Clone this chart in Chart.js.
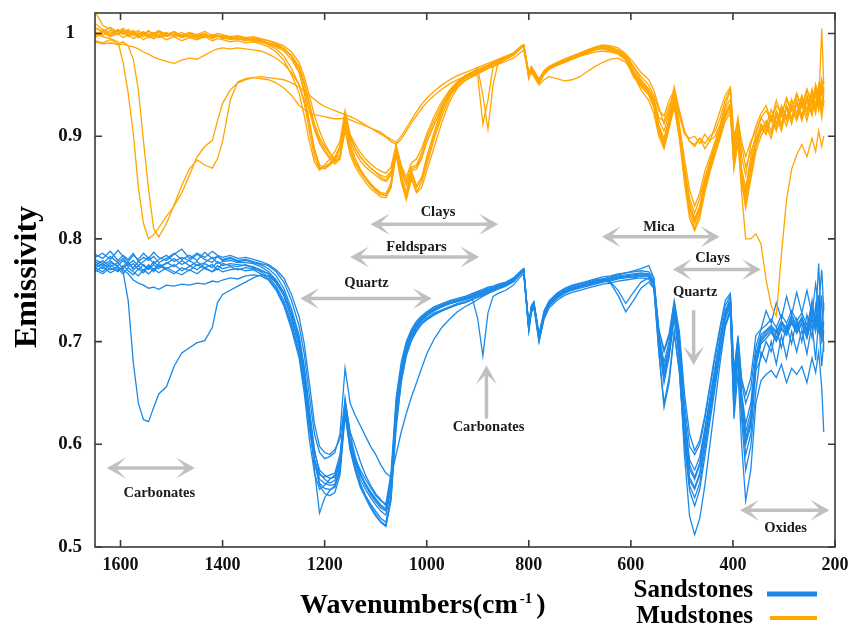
<!DOCTYPE html>
<html>
<head>
<meta charset="utf-8">
<script src="https://cdn.jsdelivr.net/npm/chart.js@4.4.1/dist/chart.umd.min.js"></script>
<style>
  html, body { margin: 0; padding: 0; background: #fff; }
</style>
</head>
<body>
<canvas id="grafico" width="850" height="627"></canvas>
<script>
// wavenumbers (cm-1) shared by every spectrum
const wavenumbers = [
  1650,1635,1620,1605,1595,1585,1575,1565,1555,1545,
  1535,1525,1510,1495,1480,1465,1450,1435,1420,1410,
  1400,1385,1370,1355,1340,1325,1310,1295,1280,1265,
  1250,1240,1230,1220,1210,1200,1190,1180,1170,1160,
  1150,1140,1130,1120,1110,1100,1090,1080,1070,1060,
  1050,1040,1030,1020,1010,1000,985,970,955,940,
  925,910,900,890,880,870,860,845,830,815,
  810,800,795,790,780,770,760,745,730,715,
  700,685,670,655,640,625,610,595,580,565,
  555,545,535,525,515,505,495,485,475,465,
  455,445,435,425,415,405,398,390,383,375,
  365,355,345,335,325,315,305,295,285,275,
  265,255,245,238,232,226,222
];

// sandstones (blue)
const sand1 = [
  .772,.776,.770,.773,.768,.740,.680,.640,.624,.622,
  .636,.649,.656,.676,.689,.694,.699,.701,.714,.738,
  .746,.750,.754,.758,.762,.765,.764,.757,.745,.722,
  .695,.662,.620,.585,.566,.562,.560,.561,.578,.640,
  .603,.582,.566,.556,.548,.541,.535,.531,.556,.628,
  .668,.692,.706,.715,.721,.726,.731,.734,.737,.739,
  .741,.744,.746,.748,.750,.751,.752,.755,.759,.767,
  .769,.712,.731,.736,.703,.726,.736,.743,.748,.751,
  .753,.755,.757,.759,.760,.762,.763,.762,.764,.763,
  .756,.702,.668,.690,.727,.692,.622,.576,.566,.580,
  .610,.640,.672,.702,.727,.738,.655,.697,.645,.606,
  .626,.681,.702,.708,.713,.704,.717,.710,.722,.712,
  .721,.708,.726,.714,.731,.704,.712
];
const sand2 = [
  .778,.774,.779,.772,.770,.766,.760,.757,.755,.752,
  .753,.751,.755,.754,.756,.755,.757,.756,.759,.758,
  .760,.762,.761,.764,.765,.764,.760,.750,.735,.712,
  .684,.650,.605,.572,.556,.560,.566,.570,.585,.645,
  .610,.588,.572,.560,.552,.546,.540,.536,.565,.640,
  .675,.698,.710,.718,.724,.728,.733,.736,.739,.741,
  .743,.746,.748,.750,.752,.753,.755,.757,.760,.768,
  .770,.714,.733,.737,.704,.727,.737,.744,.749,.752,
  .754,.756,.758,.760,.761,.763,.764,.765,.766,.765,
  .758,.705,.675,.695,.730,.695,.628,.585,.575,.588,
  .616,.646,.676,.705,.730,.742,.662,.700,.650,.620,
  .640,.688,.707,.711,.716,.710,.720,.713,.725,.716,
  .723,.712,.740,.712,.745,.700,.738
];
const sand3 = [
  .785,.781,.788,.779,.784,.780,.786,.778,.782,.779,
  .783,.777,.781,.786,.780,.784,.779,.787,.781,.783,
  .780,.782,.779,.780,.778,.776,.774,.768,.758,.740,
  .715,.688,.648,.610,.592,.586,.588,.592,.610,.674,
  .640,.628,.618,.608,.598,.590,.580,.572,.568,.590,
  .612,.630,.646,.660,.674,.688,.703,.714,.722,.729,
  .734,.738,.741,.744,.747,.750,.752,.755,.759,.767,
  .769,.716,.734,.738,.706,.728,.738,.745,.750,.753,
  .755,.757,.759,.760,.762,.764,.765,.766,.767,.766,
  .759,.710,.690,.705,.738,.705,.640,.598,.590,.600,
  .625,.655,.685,.712,.735,.745,.668,.704,.660,.640,
  .655,.695,.712,.716,.722,.714,.726,.718,.730,.720,
  .728,.716,.734,.722,.740,.712,.720
];
const sand4 = [
  .770,.766,.772,.768,.774,.769,.765,.771,.767,.773,
  .768,.774,.770,.766,.772,.769,.775,.771,.768,.774,
  .771,.773,.770,.772,.771,.769,.766,.759,.748,.728,
  .702,.672,.630,.575,.533,.548,.555,.560,.576,.632,
  .596,.576,.560,.550,.542,.535,.528,.524,.548,.620,
  .662,.688,.702,.711,.718,.722,.727,.730,.733,.736,
  .738,.741,.722,.686,.728,.744,.747,.750,.755,.764,
  .766,.710,.728,.733,.700,.722,.733,.740,.745,.748,
  .750,.752,.754,.756,.757,.759,.760,.761,.762,.761,
  .753,.698,.660,.685,.722,.685,.612,.565,.556,.570,
  .602,.634,.665,.698,.722,.735,.650,.692,.640,.600,
  .618,.676,.698,.703,.709,.700,.712,.706,.718,.708,
  .717,.703,.722,.710,.726,.700,.708
];
const sand5 = [
  .780,.776,.783,.777,.781,.775,.779,.774,.778,.782,
  .776,.780,.784,.778,.782,.779,.785,.780,.777,.783,
  .779,.781,.778,.779,.777,.775,.771,.764,.752,.732,
  .706,.676,.635,.595,.572,.566,.562,.565,.582,.638,
  .602,.584,.570,.560,.551,.544,.538,.535,.563,.636,
  .673,.696,.709,.717,.723,.727,.732,.735,.738,.740,
  .742,.745,.747,.749,.751,.752,.754,.756,.760,.768,
  .770,.713,.732,.736,.702,.726,.737,.744,.749,.752,
  .754,.756,.758,.760,.758,.750,.737,.748,.758,.762,
  .756,.690,.640,.665,.710,.672,.605,.560,.548,.562,
  .595,.628,.660,.692,.718,.730,.640,.688,.632,.590,
  .610,.672,.684,.700,.690,.712,.694,.716,.698,.722,
  .700,.726,.704,.735,.708,.745,.690
];
const sand6 = [
  .768,.773,.767,.771,.766,.772,.768,.764,.770,.766,
  .771,.767,.772,.768,.765,.770,.766,.772,.768,.771,
  .768,.770,.771,.769,.770,.766,.761,.752,.737,.715,
  .688,.656,.615,.585,.570,.568,.570,.572,.590,.630,
  .600,.585,.575,.566,.558,.550,.545,.542,.572,.645,
  .680,.700,.712,.720,.725,.729,.734,.737,.740,.742,
  .744,.747,.749,.751,.753,.754,.756,.758,.762,.769,
  .771,.715,.734,.738,.706,.729,.739,.746,.751,.754,
  .756,.758,.760,.761,.757,.745,.729,.740,.752,.758,
  .752,.688,.636,.660,.708,.670,.600,.555,.540,.556,
  .588,.622,.655,.688,.715,.728,.632,.684,.625,.575,
  .598,.652,.690,.680,.700,.678,.706,.684,.710,.690,
  .712,.688,.718,.682,.722,.676,.700
];
const sand7 = [
  .774,.779,.773,.777,.771,.776,.772,.778,.774,.770,
  .775,.771,.777,.773,.779,.774,.770,.776,.772,.778,
  .774,.776,.775,.774,.773,.770,.766,.758,.745,.724,
  .698,.666,.625,.585,.560,.552,.550,.553,.570,.628,
  .594,.574,.558,.548,.538,.530,.524,.520,.545,.615,
  .660,.686,.701,.710,.717,.721,.726,.730,.733,.736,
  .738,.741,.743,.745,.747,.749,.751,.754,.758,.766,
  .768,.711,.730,.735,.700,.724,.735,.742,.747,.750,
  .752,.754,.756,.758,.759,.761,.762,.763,.764,.764,
  .757,.700,.665,.688,.728,.680,.590,.530,.512,.528,
  .560,.600,.640,.680,.715,.732,.625,.670,.600,.545,
  .575,.640,.662,.668,.672,.665,.678,.660,.674,.668,
  .676,.660,.684,.670,.690,.655,.612
];
const sand8 = [
  .782,.786,.780,.789,.783,.778,.784,.780,.786,.781,
  .787,.782,.779,.785,.790,.781,.786,.782,.788,.784,
  .782,.784,.781,.782,.780,.778,.775,.770,.762,.746,
  .724,.698,.660,.620,.598,.592,.590,.595,.605,.642,
  .612,.598,.583,.570,.560,.552,.546,.540,.560,.625,
  .664,.690,.705,.714,.720,.725,.730,.734,.737,.740,
  .742,.744,.746,.748,.750,.752,.754,.757,.761,.769,
  .771,.716,.735,.739,.707,.730,.740,.747,.752,.755,
  .757,.759,.761,.763,.764,.766,.767,.768,.769,.768,
  .762,.712,.692,.708,.740,.710,.650,.610,.594,.604,
  .628,.658,.688,.715,.740,.747,.672,.706,.664,.648,
  .665,.706,.712,.730,.718,.738,.722,.744,.726,.748,
  .728,.750,.726,.756,.735,.770,.730
];
const sand9 = [
  .776,.771,.777,.774,.779,.773,.776,.770,.775,.771,
  .778,.773,.776,.781,.775,.779,.774,.777,.782,.776,
  .778,.779,.777,.777,.776,.773,.768,.760,.748,.728,
  .702,.672,.632,.592,.575,.570,.567,.568,.584,.636,
  .604,.586,.571,.562,.554,.547,.541,.537,.566,.632,
  .670,.694,.707,.716,.722,.726,.731,.734,.737,.739,
  .741,.743,.745,.747,.749,.751,.753,.756,.760,.767,
  .769,.714,.733,.737,.704,.727,.737,.744,.749,.752,
  .754,.756,.759,.761,.763,.765,.767,.769,.771,.774,
  .762,.706,.680,.700,.735,.700,.630,.580,.568,.582,
  .612,.642,.672,.702,.728,.740,.660,.698,.648,.612,
  .632,.684,.704,.710,.714,.708,.719,.712,.726,.714,
  .724,.710,.732,.720,.776,.706,.718
];
const sand10 = [
  .772,.768,.775,.769,.773,.778,.770,.774,.769,.775,
  .770,.776,.771,.775,.769,.773,.778,.772,.775,.770,
  .776,.774,.773,.775,.772,.768,.763,.754,.740,.718,
  .690,.658,.618,.582,.562,.557,.556,.558,.574,.632,
  .598,.578,.562,.550,.540,.532,.525,.521,.550,.625,
  .665,.690,.704,.712,.718,.723,.728,.731,.734,.737,
  .739,.742,.744,.746,.748,.750,.752,.755,.759,.767,
  .769,.712,.731,.736,.702,.725,.736,.743,.748,.751,
  .753,.755,.757,.759,.760,.762,.763,.764,.765,.765,
  .758,.703,.672,.692,.732,.692,.615,.568,.558,.572,
  .604,.636,.668,.700,.725,.738,.652,.694,.642,.602,
  .622,.678,.700,.706,.711,.702,.714,.708,.720,.710,
  .718,.705,.726,.712,.728,.702,.710
];

// mudstones (orange)
const mud1 = [
  1.000,.997,.995,.992,.972,.942,.903,.850,.815,.800,
  .804,.811,.822,.832,.845,.862,.880,.890,.896,.915,
  .932,.945,.952,.955,.957,.956,.955,.952,.947,.940,
  .930,.926,.923,.921,.920,.919,.918,.917,.917,.918,
  .916,.914,.912,.910,.908,.906,.904,.900,.897,.894,
  .900,.908,.916,.924,.931,.937,.944,.950,.955,.959,
  .962,.965,.967,.969,.971,.973,.975,.978,.981,.986,
  .987,.962,.966,.962,.955,.962,.966,.969,.972,.975,
  .978,.980,.982,.983,.982,.981,.976,.968,.958,.950,
  .940,.925,.920,.935,.945,.925,.905,.895,.892,.898,
  .893,.900,.905,.918,.935,.946,.900,.915,.895,.880,
  .895,.905,.918,.925,.915,.930,.922,.935,.925,.940,
  .928,.945,.930,.950,.935,.955,.940
];
const mud2 = [
  .993,.991,.994,.990,.992,.988,.975,.945,.895,.848,
  .810,.802,.815,.833,.852,.868,.877,.872,.869,.878,
  .895,.935,.953,.956,.957,.958,.957,.956,.955,.952,
  .948,.944,.940,.936,.932,.929,.927,.925,.923,.921,
  .919,.917,.914,.911,.908,.905,.902,.899,.895,.892,
  .897,.905,.913,.920,.927,.933,.940,.946,.951,.955,
  .958,.960,.962,.964,.966,.968,.970,.973,.976,.982,
  .984,.958,.962,.958,.950,.955,.958,.956,.954,.955,
  .958,.963,.968,.972,.975,.976,.972,.962,.952,.945,
  .935,.918,.915,.930,.940,.920,.902,.898,.900,.893,
  .902,.895,.910,.925,.940,.948,.895,.918,.890,.870,
  .885,.898,.910,.902,.920,.912,.928,.918,.935,.922,
  .938,.925,.942,.928,.948,.930,.945
];
const mud3 = [
  .992,.990,.991,.989,.990,.988,.987,.985,.982,.980,
  .977,.975,.973,.971,.974,.976,.975,.979,.983,.985,
  .986,.985,.986,.985,.984,.983,.980,.976,.970,.962,
  .950,.935,.912,.885,.870,.868,.872,.878,.890,.915,
  .900,.888,.880,.874,.869,.865,.862,.860,.866,.886,
  .868,.855,.868,.870,.880,.895,.912,.928,.940,.948,
  .954,.958,.961,.963,.966,.968,.971,.975,.979,.986,
  .988,.960,.966,.962,.954,.963,.967,.971,.974,.977,
  .980,.982,.985,.986,.984,.982,.975,.960,.945,.935,
  .922,.900,.895,.915,.935,.905,.870,.840,.825,.840,
  .860,.875,.890,.905,.920,.930,.870,.895,.845,.800,
  .800,.805,.795,.760,.735,.725,.785,.838,.868,.882,
  .892,.880,.898,.885,.905,.890,.900
];
const mud4 = [
  1.022,1.008,1.004,1.002,1.005,1.001,1.003,.999,1.002,.998,
  1.001,.997,1.000,.998,1.001,.997,.999,.996,.999,.997,
  .998,.996,.997,.995,.996,.994,.993,.991,.988,.982,
  .972,.958,.940,.920,.905,.893,.884,.876,.878,.905,
  .882,.870,.862,.855,.849,.845,.841,.840,.850,.885,
  .858,.840,.862,.846,.855,.872,.898,.920,.938,.950,
  .957,.962,.965,.967,.969,.972,.974,.977,.981,.988,
  .989,.957,.966,.961,.952,.962,.966,.970,.973,.977,
  .979,.983,.985,.987,.985,.983,.978,.962,.950,.942,
  .930,.905,.890,.910,.930,.900,.860,.825,.810,.825,
  .850,.868,.885,.900,.918,.925,.875,.900,.860,.840,
  .870,.895,.905,.915,.905,.925,.912,.930,.918,.935,
  .920,.940,.925,.945,.930,1.005,.950
];
const mud5 = [
  1.005,1.002,1.006,1.001,1.003,.999,1.002,.998,1.001,.997,
  .999,1.002,.998,1.001,.997,1.000,.996,.999,.997,.998,
  .996,.997,.995,.996,.994,.993,.991,.989,.985,.978,
  .966,.950,.930,.910,.896,.887,.880,.875,.880,.910,
  .886,.873,.865,.858,.852,.847,.843,.842,.852,.888,
  .860,.842,.865,.850,.858,.876,.902,.924,.941,.952,
  .958,.962,.958,.912,.935,.968,.971,.975,.979,.986,
  .988,.956,.965,.960,.951,.960,.965,.969,.972,.975,
  .978,.981,.984,.985,.983,.980,.974,.958,.948,.940,
  .928,.900,.888,.908,.928,.898,.855,.820,.808,.820,
  .845,.865,.882,.898,.915,.922,.868,.895,.855,.830,
  .858,.885,.900,.910,.898,.920,.905,.928,.912,.932,
  .915,.935,.920,.942,.925,.945,.930
];
const mud6 = [
  .998,1.003,.999,1.004,1.000,1.002,.998,1.001,.997,1.000,
  .996,.999,1.001,.997,.999,.996,.998,1.000,.996,.998,
  .995,.996,.994,.995,.993,.992,.990,.987,.983,.975,
  .962,.945,.925,.906,.893,.885,.878,.873,.878,.912,
  .888,.875,.866,.860,.854,.849,.845,.844,.855,.890,
  .862,.845,.866,.852,.860,.880,.905,.927,.943,.953,
  .959,.963,.966,.940,.907,.950,.972,.976,.980,.987,
  .989,.958,.966,.962,.953,.962,.966,.970,.973,.976,
  .978,.982,.984,.986,.984,.982,.976,.960,.950,.943,
  .932,.908,.895,.912,.932,.902,.862,.830,.815,.828,
  .852,.870,.888,.902,.920,.928,.872,.898,.858,.835,
  .862,.890,.905,.912,.902,.922,.908,.930,.915,.935,
  .918,.938,.922,.944,.928,.948,.932
];
const mud7 = [
  1.010,1.004,1.001,.999,1.003,.998,1.001,.997,1.000,.996,
  .999,.996,.998,1.001,.996,.998,.995,.998,.996,.997,
  .997,.995,.996,.994,.995,.993,.991,.988,.985,.979,
  .968,.953,.933,.912,.899,.890,.883,.878,.882,.918,
  .892,.878,.868,.860,.853,.848,.844,.842,.850,.882,
  .855,.838,.858,.845,.850,.866,.890,.914,.934,.947,
  .954,.959,.962,.965,.967,.970,.972,.976,.980,.987,
  .989,.959,.967,.963,.954,.963,.967,.971,.974,.977,
  .980,.983,.986,.988,.986,.984,.978,.965,.953,.945,
  .935,.910,.898,.918,.938,.905,.868,.835,.820,.832,
  .858,.876,.892,.908,.925,.932,.878,.902,.862,.845,
  .875,.895,.912,.905,.920,.908,.925,.915,.930,.918,
  .935,.920,.940,.925,.945,.925,.948
];
const mud8 = [
  1.002,.998,1.003,.999,1.002,.997,1.000,.996,.999,1.003,
  .998,1.001,.997,.999,.996,1.000,.997,.999,.995,.998,
  .996,.994,.995,.993,.994,.992,.989,.985,.978,.966,
  .950,.932,.905,.880,.868,.870,.874,.880,.890,.918,
  .895,.884,.876,.870,.866,.862,.858,.856,.862,.885,
  .866,.852,.866,.868,.878,.894,.912,.928,.941,.950,
  .956,.960,.963,.966,.968,.970,.973,.976,.980,.986,
  .988,.960,.966,.961,.953,.962,.966,.970,.973,.976,
  .979,.982,.984,.986,.985,.982,.977,.962,.951,.942,
  .930,.906,.892,.912,.932,.904,.864,.832,.818,.830,
  .855,.872,.888,.904,.922,.930,.880,.905,.862,.842,
  .868,.892,.908,.902,.918,.905,.922,.910,.928,.915,
  .932,.915,.936,.922,.940,.918,.935
];
const mud9 = [
  .996,1.001,.997,1.000,.996,.999,.995,.998,.994,.997,
  .995,.998,.994,.997,.993,.996,.994,.997,.993,.995,
  .994,.992,.993,.991,.992,.990,.987,.982,.974,.960,
  .942,.920,.895,.875,.867,.872,.878,.885,.895,.925,
  .902,.892,.884,.878,.873,.869,.866,.864,.870,.892,
  .872,.860,.874,.878,.888,.902,.920,.934,.945,.953,
  .958,.962,.965,.967,.969,.971,.974,.977,.981,.987,
  .989,.961,.967,.963,.955,.963,.967,.971,.975,.978,
  .981,.984,.986,.988,.987,.984,.980,.968,.955,.946,
  .937,.915,.905,.922,.942,.912,.878,.848,.832,.845,
  .866,.880,.895,.910,.928,.936,.885,.910,.868,.850,
  .880,.902,.918,.910,.926,.912,.930,.918,.936,.922,
  .940,.925,.946,.930,.950,.928,.940
];
const mud10 = [
  1.006,1.002,.998,1.003,.999,1.004,1.000,1.003,.999,1.002,
  1.000,1.003,.999,1.002,.998,1.001,.999,1.002,.998,1.000,
  .999,.997,.998,.996,.997,.995,.993,.990,.986,.978,
  .962,.942,.915,.888,.872,.870,.872,.876,.888,.920,
  .898,.888,.880,.874,.869,.865,.860,.857,.864,.889,
  .869,.856,.870,.872,.884,.899,.916,.931,.944,.952,
  .957,.961,.964,.966,.968,.971,.973,.977,.981,.987,
  .989,.962,.968,.964,.956,.964,.968,.972,.975,.978,
  .981,.984,.987,.989,.988,.986,.980,.972,.962,.955,
  .945,.928,.912,.925,.948,.925,.905,.895,.890,.898,
  .888,.896,.900,.912,.930,.945,.890,.912,.880,.862,
  .892,.910,.922,.930,.915,.935,.920,.938,.925,.942,
  .928,.946,.932,.950,.935,.955,.945
];

const sandstones = [sand1, sand2, sand3, sand4, sand5, sand6, sand7, sand8, sand9, sand10];
const mudstones = [mud1, mud2, mud3, mud4, mud5, mud6, mud7, mud8, mud9, mud10];

const xTickStep = 200;
const yTickStep = 0.1;

const blue = 'rgb(27,137,232)';
const orange = 'rgb(255,166,0)';
const arrowGray = 'rgb(196,191,191)';
const serif = "'Liberation Serif', 'Times New Roman', serif";

// labels with gray arrows, placed in data units (wavenumber, emissivity)
const notes = [
  { text: 'Clays',      from: [1110, 0.8143], to: [860, 0.8143],  at: [978, 0.8257],  both: true },
  { text: 'Feldspars',  from: [1150, 0.7825], to: [897, 0.7825],  at: [1020, 0.7922], both: true },
  { text: 'Quartz',     from: [1248, 0.742],  to: [990, 0.742],   at: [1118, 0.7572], both: true },
  { text: 'Mica',       from: [657, 0.802],   to: [426, 0.802],   at: [545, 0.8111],  both: true },
  { text: 'Clays',      from: [518, 0.7702],  to: [345, 0.7702],  at: [440, 0.7809],  both: true },
  { text: 'Quartz',     from: [477, 0.7306],  to: [477, 0.677],   at: [474, 0.7484],  both: false },
  { text: 'Carbonates', from: [883, 0.6251],  to: [883, 0.677],   at: [879, 0.6164],  both: false },
  { text: 'Carbonates', from: [1627, 0.577],  to: [1454, 0.577],  at: [1524, 0.5527], both: true },
  { text: 'Oxides',     from: [386, 0.5358],  to: [211, 0.5358],  at: [297, 0.518],   both: true }
];

// check that every series matches the wavenumbers
[...sandstones, ...mudstones].forEach((s, i) => {
  if (s.length !== wavenumbers.length) throw new Error('series ' + i + ' has ' + s.length + ' values');
});

function toPoints(vals) {
  return wavenumbers.map((w, i) => ({ x: w, y: vals[i] }));
}

const datasets = [];
// orange first so it is drawn on top
mudstones.forEach(m => datasets.push({ label: 'Mudstones', data: toPoints(m), borderColor: orange }));
sandstones.forEach(s => datasets.push({ label: 'Sandstones', data: toPoints(s), borderColor: blue }));

function head(ctx, tx, ty, ang) {
  const L = 19, W = 10.5, N = 9;
  ctx.save();
  ctx.translate(tx, ty);
  ctx.rotate(ang);
  ctx.beginPath();
  ctx.moveTo(0, 0);
  ctx.lineTo(-L, -W);
  ctx.lineTo(-N, 0);
  ctx.lineTo(-L, W);
  ctx.closePath();
  ctx.fill();
  ctx.restore();
}

function arrow(ctx, x1, y1, x2, y2, both) {
  const ang = Math.atan2(y2 - y1, x2 - x1);
  const c = Math.cos(ang), s = Math.sin(ang);
  const N = 9;
  ctx.beginPath();
  ctx.moveTo(x1 + (both ? N * c : 0), y1 + (both ? N * s : 0));
  ctx.lineTo(x2 - N * c, y2 - N * s);
  ctx.stroke();
  head(ctx, x2, y2, ang);
  if (both) head(ctx, x1, y1, ang + Math.PI);
}

const extras = {
  id: 'extras',
  afterDraw(chart) {
    const ctx = chart.ctx;
    const { left, right, top, bottom } = chart.chartArea;
    const xs = chart.scales.x, ys = chart.scales.y;
    ctx.save();

    // frame and inward ticks
    ctx.strokeStyle = '#3a3a3a';
    ctx.lineWidth = 1.6;
    ctx.strokeRect(left, top, right - left, bottom - top);
    ctx.beginPath();
    xs.ticks.forEach(t => {
      const px = xs.getPixelForValue(t.value);
      ctx.moveTo(px, bottom); ctx.lineTo(px, bottom - 7);
      ctx.moveTo(px, top); ctx.lineTo(px, top + 7);
    });
    ys.ticks.forEach(t => {
      const py = ys.getPixelForValue(t.value);
      ctx.moveTo(left, py); ctx.lineTo(left + 7, py);
      ctx.moveTo(right, py); ctx.lineTo(right - 7, py);
    });
    ctx.stroke();

    // arrows and their labels
    ctx.strokeStyle = arrowGray;
    ctx.fillStyle = arrowGray;
    ctx.lineWidth = 3.5;
    notes.forEach(n => {
      arrow(ctx,
        xs.getPixelForValue(n.from[0]), ys.getPixelForValue(n.from[1]),
        xs.getPixelForValue(n.to[0]), ys.getPixelForValue(n.to[1]), n.both);
    });
    ctx.fillStyle = '#1a1a1a';
    ctx.font = 'bold 14.5px ' + serif;
    ctx.textAlign = 'center';
    ctx.textBaseline = 'middle';
    notes.forEach(n => {
      ctx.fillText(n.text, xs.getPixelForValue(n.at[0]), ys.getPixelForValue(n.at[1]));
    });

    // y title
    ctx.fillStyle = '#000';
    ctx.save();
    ctx.translate(28, 277);
    ctx.rotate(-Math.PI / 2);
    ctx.font = 'bold 32px ' + serif;
    ctx.fillText('Emissivity', 0, 0);
    ctx.restore();

    // x title with superscript
    ctx.textAlign = 'left';
    ctx.textBaseline = 'alphabetic';
    ctx.font = 'bold 28px ' + serif;
    const main = 'Wavenumbers(cm';
    let tx = 300;
    ctx.fillText(main, tx, 613);
    tx += ctx.measureText(main).width + 2;
    ctx.font = 'bold 15px ' + serif;
    ctx.fillText('-1', tx, 603);
    tx += ctx.measureText('-1').width + 4;
    ctx.font = 'bold 28px ' + serif;
    ctx.fillText(')', tx, 613);

    // legend
    ctx.font = 'bold 25px ' + serif;
    ctx.textAlign = 'right';
    ctx.fillText('Sandstones', 753, 597);
    ctx.fillText('Mudstones', 753, 623);
    ctx.lineWidth = 5;
    ctx.strokeStyle = blue;
    ctx.beginPath(); ctx.moveTo(767, 594); ctx.lineTo(817, 594); ctx.stroke();
    ctx.lineWidth = 4;
    ctx.strokeStyle = orange;
    ctx.beginPath(); ctx.moveTo(770, 618); ctx.lineTo(817, 618); ctx.stroke();

    ctx.restore();
  }
};

new Chart(document.getElementById('grafico'), {
  type: 'line',
  data: { datasets: datasets },
  options: {
    responsive: false,
    animation: false,
    devicePixelRatio: 1,
    layout: { padding: { left: 0, right: 15, top: 13, bottom: 0 } },
    plugins: { legend: { display: false }, tooltip: { enabled: false } },
    elements: {
      point: { radius: 0 },
      line: { borderWidth: 1.3, tension: 0, fill: false }
    },
    scales: {
      x: {
        type: 'linear',
        reverse: true,
        min: 200,
        max: 1650,
        grid: { display: false, drawTicks: false },
        border: { display: false },
        ticks: {
          stepSize: xTickStep,
          includeBounds: false,
          padding: 8,
          color: '#111',
          font: { family: serif, size: 18, weight: 'bold' },
          callback: v => String(v)
        },
        afterFit(s) { s.height = 80; s.paddingLeft = 0; s.paddingRight = 0; }
      },
      y: {
        type: 'linear',
        min: 0.5,
        max: 1.02,
        grid: { display: false, drawTicks: false },
        border: { display: false },
        ticks: {
          stepSize: yTickStep,
          includeBounds: false,
          crossAlign: 'center',
          padding: 13,
          color: '#111',
          font: { family: serif, size: 19, weight: 'bold' },
          callback: v => String(Number(v.toFixed(2)))
        },
        afterFit(s) { s.width = 95; s.paddingTop = 0; s.paddingBottom = 0; }
      }
    }
  },
  plugins: [extras]
});
</script>
</body>
</html>
